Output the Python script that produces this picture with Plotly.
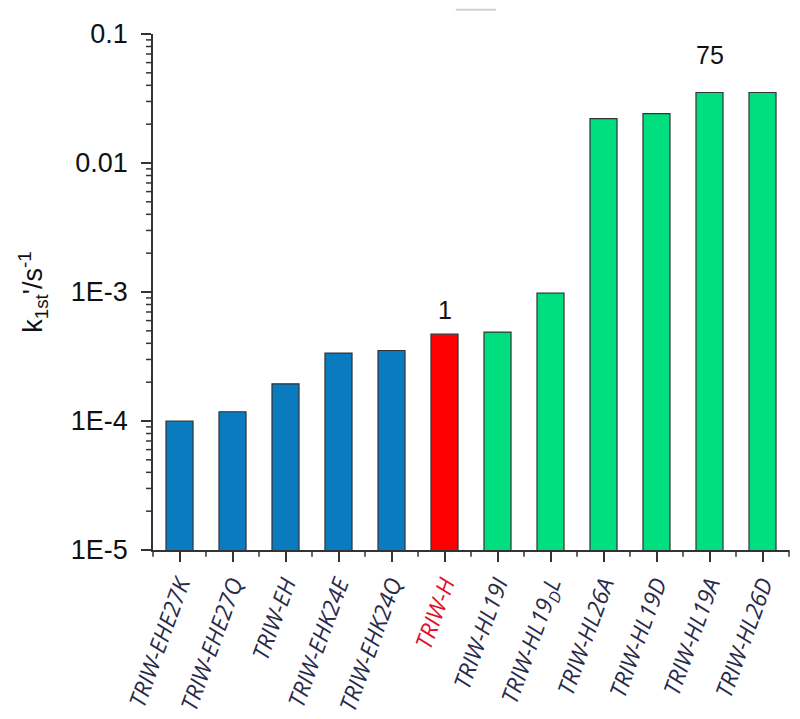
import plotly.graph_objects as go
import math

categories = ["TRIW-EHE27K", "TRIW-EHE27Q", "TRIW-EH", "TRIW-EHK24E", "TRIW-EHK24Q",
              "TRIW-H", "TRIW-HL19I", "TRIW-HL19<sub>D</sub>L", "TRIW-HL26A",
              "TRIW-HL19D", "TRIW-HL19A", "TRIW-HL26D"]
rates = [1.0e-4, 1.18e-4, 1.94e-4, 3.36e-4, 3.52e-4, 4.71e-4, 4.89e-4, 9.8e-4,
         0.0221, 0.0241, 0.0352, 0.0352]
groups = ["E", "E", "E", "E", "E", "H", "L", "L", "L", "L", "L", "L"]
group_colors = {"E": "#0a7bbf", "H": "#ff0000", "L": "#00df80"}
ytick_vals = [1e-5, 1e-4, 1e-3, 1e-2, 1e-1]
ytick_text = ["1E-5", "1E-4", "1E-3", "0.01", "0.1"]
ref_index = 5
top_index = 10

xs = list(range(len(categories)))
colors = [group_colors[g] for g in groups]
ticktext = [f"<span style='color:#e0102a'>{c}</span>" if g == "H" else c
            for c, g in zip(categories, groups)]
y_lo, y_hi = -5, -1
x_lo, x_hi = -0.5, len(categories) - 0.5
minor_y = [m * d for d in ytick_vals[:-1] for m in range(2, 10)]
minor_x = [i - 0.5 for i in range(len(categories) + 1)]

fig = go.Figure(go.Bar(
    x=xs, y=rates, marker=dict(color=colors, line=dict(color="#333333", width=1.2)),
    width=0.51,
))

fig.add_annotation(x=ref_index, y=math.log10(rates[ref_index]), text="1",
                   showarrow=False, yanchor="bottom", yshift=8,
                   font=dict(family="Arial", size=25, color="#111"))
fig.add_annotation(x=top_index, y=math.log10(rates[top_index]),
                   text=f"{round(rates[top_index]/rates[ref_index])}",
                   showarrow=False, yanchor="bottom", yshift=22,
                   font=dict(family="Arial", size=25, color="#111"))

# minor tick marks as short outside strokes (paper coords derived from axis ranges)
for v in minor_y:
    py = (math.log10(v) - y_lo) / (y_hi - y_lo)
    fig.add_shape(type="line", xref="paper", yref="paper", x0=-0.011, x1=0,
                  y0=py, y1=py, layer="above", line=dict(color="#333", width=1.5))
for v in minor_x:
    px = (v - x_lo) / (x_hi - x_lo)
    fig.add_shape(type="line", xref="paper", yref="paper", x0=px, x1=px,
                  y0=-0.013, y1=0, layer="above", line=dict(color="#333", width=1.5))

fig.add_shape(type="line", xref="paper", yref="paper", x0=0.476, x1=0.539,
              y0=1.047, y1=1.047, line=dict(color="#d0d0d0", width=2))

fig.update_layout(
    width=792, height=711, plot_bgcolor="white", paper_bgcolor="white",
    margin=dict(l=145, r=11, t=26, b=169),
    showlegend=False,
    xaxis=dict(range=[x_lo, x_hi], tickmode="array", tickvals=xs, ticktext=ticktext,
               tickangle=-70, automargin=False,
               showline=True, linecolor="#333", linewidth=1.5,
               ticks="outside", ticklen=10, tickwidth=1.5, tickcolor="#333",
               tickfont=dict(family="Open Sans", size=23, color="#2a2a4a", style="italic"),
               showgrid=False, zeroline=False),
    yaxis=dict(type="log", range=[y_lo, y_hi], tickmode="array", tickvals=ytick_vals,
               ticktext=ytick_text,
               automargin=False, ticklabelstandoff=8,
               showline=True, linecolor="#333", linewidth=1.5,
               ticks="outside", ticklen=10, tickwidth=1.5, tickcolor="#333",
               tickfont=dict(family="Arial", size=27, color="#111"),
               showgrid=False, zeroline=False,
               title=dict(text="k<sub>1st</sub>'/s<sup>-1</sup>",
                          font=dict(family="Arial", size=27, color="#111"), standoff=20)),
)

fig.write_html("out.html")
